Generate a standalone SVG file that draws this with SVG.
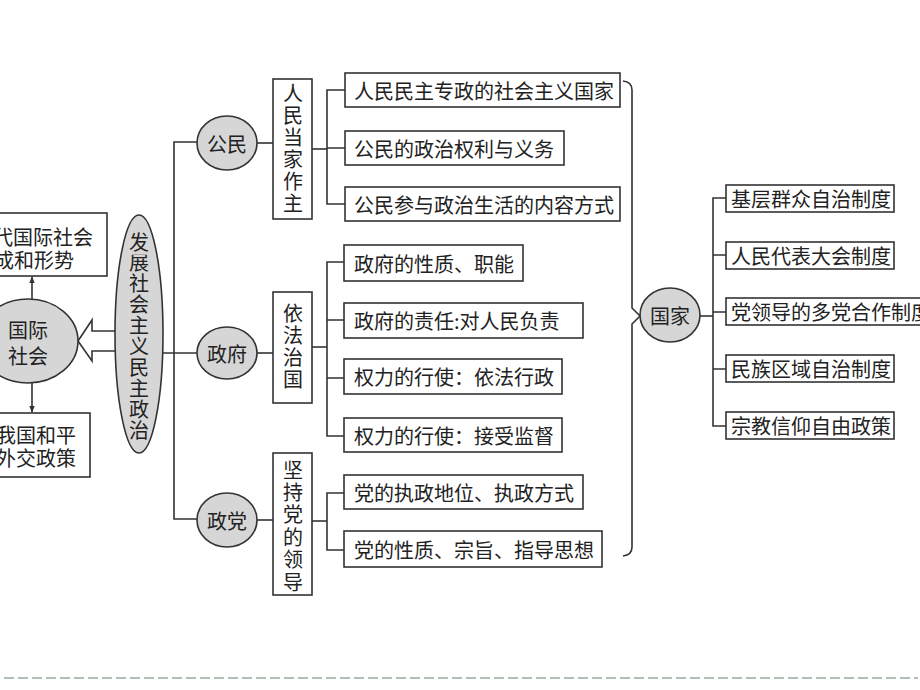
<svg xmlns="http://www.w3.org/2000/svg" width="920" height="690" viewBox="0 0 920 690">
<style>
text{font-family:"Noto Sans CJK SC","Noto Sans CJK TC",sans-serif;font-size:20px;fill:#222;dominant-baseline:central}
.box{fill:#fff;stroke:#333;stroke-width:1.6}
.ell{fill:#d6d6d6;stroke:#333;stroke-width:1.6}
.ln{fill:none;stroke:#333;stroke-width:1.6}
.mid{text-anchor:middle}
.vt{writing-mode:vertical-rl;text-anchor:start}
</style>
<defs>
<marker id="ah" viewBox="0 0 10 10" refX="9" refY="5" markerWidth="7" markerHeight="7" orient="auto" markerUnits="userSpaceOnUse"><path d="M0,1 L10,5 L0,9 Z" fill="#333"/></marker>
</defs>
<rect width="920" height="690" fill="#fff"/>

<g id="connectors">
<path class="ln" d="M32,300 V277" marker-end="url(#ah)"/>
<path class="ln" d="M32,383 V412" marker-end="url(#ah)"/>
<polygon points="78,341 92,320 92,331 118,331 118,351 92,351 92,361" fill="#fff" stroke="#333" stroke-width="1.6"/>
<path class="ln" d="M163,353 H197"/>
<path class="ln" d="M197,142 H174 V519 H197"/>
<path class="ln" d="M257,143 H273"/>
<path class="ln" d="M312,149 H327"/>
<path class="ln" d="M345,90 H327 V204 H345 M327,148 H345"/>
<path class="ln" d="M257,353 H273"/>
<path class="ln" d="M312,347 H327"/>
<path class="ln" d="M344,262 H327 V436 H344 M327,320 H344 M327,378 H344"/>
<path class="ln" d="M257,520 H273"/>
<path class="ln" d="M312,521 H327"/>
<path class="ln" d="M344,493 H327 V550 H344"/>
<path class="ln" d="M623,81 Q632,82 632,90 V308 L640,316 L632,324 V547 Q632,555 623,556"/>
<path class="ln" d="M700,316 H713"/>
<path class="ln" d="M726,198 H713 V426 H726 M713,255 H726 M713,312 H726 M713,369 H726"/>
</g>

<g id="intl-top"><rect class="box" x="-2" y="213" width="109" height="63"/><text text-anchor="end"><tspan x="93" y="236">代国际社会</tspan><tspan x="74" y="259">成和形势</tspan></text></g>
<g id="intl-bottom"><rect class="box" x="-2" y="413" width="92" height="64"/><text text-anchor="end"><tspan x="76" y="434">我国和平</tspan><tspan x="76" y="457">外交政策</tspan></text></g>
<g id="intl"><ellipse class="ell" cx="28" cy="341" rx="50" ry="42"/><text class="mid"><tspan x="28" y="329">国际</tspan><tspan x="28" y="355">社会</tspan></text></g>

<g id="center"><ellipse class="ell" cx="139" cy="334" rx="24" ry="119"/>
<text class="vt" x="139" y="232" letter-spacing="0.9">发展社会主义民主政治</text></g>

<g id="gongmin"><ellipse class="ell" cx="227" cy="143" rx="30" ry="27"/><text class="mid" x="227" y="143">公民</text></g>
<g id="zhengfu"><ellipse class="ell" cx="227" cy="353" rx="30" ry="26"/><text class="mid" x="227" y="353">政府</text></g>
<g id="zhengdang"><ellipse class="ell" cx="227" cy="520" rx="30" ry="27"/><text class="mid" x="227" y="520">政党</text></g>

<g id="rmdjzz"><rect class="box" x="273" y="79" width="39" height="140"/>
<text class="vt" x="293" y="83" letter-spacing="2">人民当家作主</text></g>
<g id="yfzg"><rect class="box" x="273" y="292" width="39" height="111"/>
<text class="vt" x="293" y="303" letter-spacing="2.3">依法治国</text></g>
<g id="jcddld"><rect class="box" x="273" y="453" width="39" height="142"/>
<text class="vt" x="293" y="460" letter-spacing="2.4">坚持党的领导</text></g>

<g id="g1"><rect class="box" x="345" y="73" width="275" height="34"/><text x="354" y="90">人民民主专政的社会主义国家</text></g>
<g id="g2"><rect class="box" x="345" y="131" width="219" height="34"/><text x="354" y="148">公民的政治权利与义务</text></g>
<g id="g3"><rect class="box" x="345" y="187" width="275" height="34"/><text x="354" y="204">公民参与政治生活的内容方式</text></g>

<g id="f1"><rect class="box" x="344" y="245" width="179" height="36"/><text x="354" y="263">政府的性质、职能</text></g>
<g id="f2"><rect class="box" x="344" y="303" width="239" height="35"/><text x="354" y="320">政府的责任:对人民负责</text></g>
<g id="f3"><rect class="box" x="344" y="359" width="218" height="35"/><text x="354" y="376">权力的行使：依法行政</text></g>
<g id="f4"><rect class="box" x="344" y="418" width="218" height="34"/><text x="354" y="435">权力的行使：接受监督</text></g>

<g id="d1"><rect class="box" x="344" y="475" width="239" height="34"/><text x="354" y="492">党的执政地位、执政方式</text></g>
<g id="d2"><rect class="box" x="344" y="531" width="258" height="36"/><text x="354" y="549">党的性质、宗旨、指导思想</text></g>

<g id="guojia"><ellipse class="ell" cx="670" cy="315" rx="30" ry="27"/><text class="mid" x="670" y="315">国家</text></g>
<g id="s1"><rect class="box" x="726" y="185" width="168" height="27"/><text x="731" y="198.5">基层群众自治制度</text></g>
<g id="s2"><rect class="box" x="726" y="242" width="168" height="27"/><text x="731" y="255.5">人民代表大会制度</text></g>
<g id="s3"><rect class="box" x="726" y="298" width="210" height="27"/><text x="731" y="311.5">党领导的多党合作制度</text></g>
<g id="s4"><rect class="box" x="726" y="355" width="168" height="27"/><text x="731" y="368.5">民族区域自治制度</text></g>
<g id="s5"><rect class="box" x="726" y="412" width="168" height="27"/><text x="731" y="425.5">宗教信仰自由政策</text></g>

<line x1="4" y1="678" x2="918" y2="678" stroke="#9aab9a" stroke-width="1.5" stroke-dasharray="10,4"/>
</svg>
